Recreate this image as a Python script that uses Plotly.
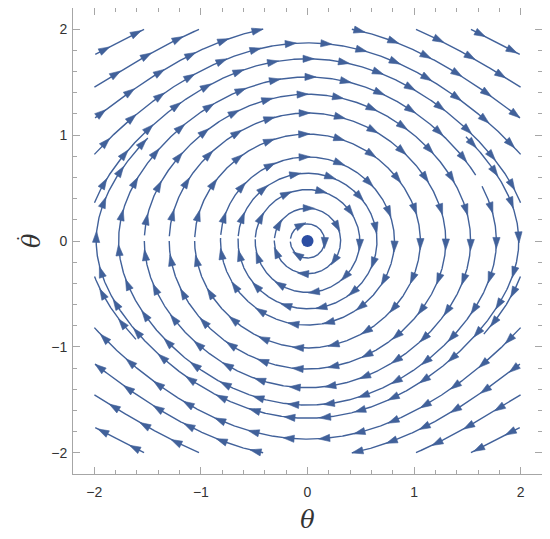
import numpy as np
import plotly.graph_objects as go

# Pendulum phase portrait: theta' = thetadot, thetadot' = -sin(theta)
# Each streamline is a level set of E = thetadot^2/2 - cos(theta),
# drawn clockwise between two polar angles (degrees).
stream_E = [1.96, 1.47, 1.085,            # top-left corners
            1.96, 1.47, 1.085,            # top-right corners
            1.96, 1.47, 1.085,            # bottom-right corners
            1.96, 1.47, 1.085,            # bottom-left corners
            0.75, 0.75,                   # top / bottom open arcs
            0.48, 0.47, 0.47,             # outer open arc + two short pieces
            0.40, 0.20, -0.04, -0.27, -0.49, -0.685, -0.795, -0.882, -0.952, -0.987]
stream_start = [140, 146, 152,
                54, 65, 80,
                -38, -33, -28,
                -126.5, -116, -100.5,
                160, -20,
                172, -2, -150,
                33.5, 17.5, 178, 178, 178, 176, 176, 176, 175, 172]
stream_end = [125, 115, 99,
              39, 34, 28,
              -55, -65, -79.5,
              -141, -147, -152,
              20, -160,
              8, -28, -178,
              -213.2, -338.5, -180, -180, -180, -182, -182, -182, -181, -178]

x_ticks = [-2, -1, 0, 1, 2]
y_ticks = [-2, -1, 0, 1, 2]
fixed_point = ([0.0], [0.0])

LINE = "#41619a"
DOT = "#2c4ea3"
TXT = "#333333"


def radius(E, phi):
    s, c = np.sin(phi), np.cos(phi)
    f = lambda r: 0.5 * (r * s) ** 2 - np.cos(r * c) - E
    lo, hi = 0.0, 3.0
    if f(hi) < 0:
        return None
    for _ in range(60):
        mid = 0.5 * (lo + hi)
        if f(mid) < 0:
            lo = mid
        else:
            hi = mid
    return 0.5 * (lo + hi)


def stream_pieces(E, a0, a1):
    phis = np.radians(np.arange(a0, a1 - 1e-9, -0.25))
    pieces, cur = [], []
    for p in phis:
        r = radius(E, p)
        ok = r is not None
        if ok:
            x, y = r * np.cos(p), r * np.sin(p)
            ok = abs(x) <= 2.0005 and abs(y) <= 2.0005
        if ok:
            cur.append((x, y))
        else:
            if len(cur) > 1:
                pieces.append(np.array(cur))
            cur = []
    if len(cur) > 1:
        pieces.append(np.array(cur))
    return pieces


lx, ly = [], []
ax_, ay_ = [], []
SPACING, L, W = 0.335, 0.105, 0.068
for E, a0, a1 in zip(stream_E, stream_start, stream_end):
    for pts in stream_pieces(E, a0, a1):
        lx += list(pts[:, 0]) + [None]
        ly += list(pts[:, 1]) + [None]
        seg = np.hypot(np.diff(pts[:, 0]), np.diff(pts[:, 1]))
        cum = np.concatenate([[0], np.cumsum(seg)])
        total = cum[-1]
        if total < 0.2:
            continue
        n = int(np.floor((total - 0.12) / SPACING)) + 1
        start = (total - (n - 1) * SPACING) / 2
        for k in range(n):
            s = start + k * SPACING
            i = np.searchsorted(cum, s) - 1
            i = min(max(i, 0), len(pts) - 2)
            t = (s - cum[i]) / max(seg[i], 1e-12)
            p = pts[i] + t * (pts[i + 1] - pts[i])
            d = pts[i + 1] - pts[i]
            d = d / np.hypot(*d)
            nrm = np.array([-d[1], d[0]])
            tip = p + d * L * 0.6
            b1 = p - d * L * 0.4 + nrm * W / 2
            b2 = p - d * L * 0.4 - nrm * W / 2
            ax_ += [tip[0], b1[0], b2[0], tip[0], None]
            ay_ += [tip[1], b1[1], b2[1], tip[1], None]

fig = go.Figure()
fig.add_trace(go.Scatter(x=lx, y=ly, mode="lines",
                         line=dict(color=LINE, width=1.4),
                         hoverinfo="skip", showlegend=False))
fig.add_trace(go.Scatter(x=ax_, y=ay_, mode="lines", fill="toself",
                         fillcolor=LINE, line=dict(color=LINE, width=0.6),
                         hoverinfo="skip", showlegend=False))
fig.add_trace(go.Scatter(x=fixed_point[0], y=fixed_point[1], mode="markers",
                         marker=dict(color=DOT, size=12),
                         hoverinfo="skip", showlegend=False))

axis_common = dict(
    range=[-2.2, 2.2], showgrid=False, zeroline=False, automargin=False,
    showline=True, linecolor="#a6a6a6", linewidth=1, mirror="ticks",
    ticks="inside", ticklen=7, tickwidth=1, tickcolor="#a6a6a6",
    minor=dict(ticks="inside", ticklen=4, dtick=0.2, tick0=0,
               tickcolor="#a6a6a6", tickwidth=1),
    tickfont=dict(family="Liberation Sans, Arial, sans-serif", size=14, color=TXT),
)
fig.update_xaxes(**axis_common, tickvals=x_ticks, ticklabelstandoff=5,
                 title=dict(text="<i>θ</i>", standoff=12,
                            font=dict(family="DejaVu Serif, serif", size=24, color=TXT)))
fig.update_yaxes(**axis_common, tickvals=y_ticks, ticklabelstandoff=2)

# y-axis title: rotated theta with its overdot
fig.add_annotation(text="<i>θ</i>", xref="paper", yref="paper", x=0, y=0.5,
                   xanchor="center", yanchor="middle", xshift=-41, textangle=-90,
                   showarrow=False,
                   font=dict(family="DejaVu Serif, serif", size=24, color=TXT))
fig.add_annotation(text="•", xref="paper", yref="paper", x=0, y=0.5,
                   xanchor="center", yanchor="middle", xshift=-55, yshift=2,
                   showarrow=False,
                   font=dict(family="DejaVu Sans, sans-serif", size=7, color=TXT))

# page body adds an 8px offset, so the figure is sized to fit the window
fig.update_layout(width=542, height=531,
                  margin=dict(l=65, r=8, t=0, b=65),
                  paper_bgcolor="white", plot_bgcolor="white")
fig.write_html("out.html")
